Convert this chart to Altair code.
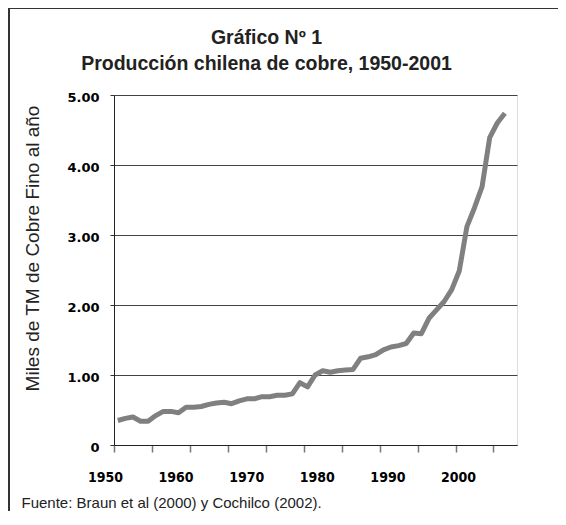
import altair as alt
import pandas as pd

years = list(range(1950, 2002))
produccion = [0.35, 0.38, 0.40, 0.34, 0.34, 0.42, 0.48, 0.48, 0.46, 0.54,
              0.54, 0.55, 0.58, 0.60, 0.61, 0.59, 0.63, 0.66, 0.66, 0.69,
              0.69, 0.71, 0.71, 0.73, 0.89, 0.83, 1.00, 1.06, 1.04, 1.06,
              1.07, 1.08, 1.24, 1.26, 1.29, 1.36, 1.40, 1.42, 1.45, 1.60,
              1.59, 1.81, 1.93, 2.05, 2.22, 2.49, 3.12, 3.39, 3.69, 4.39,
              4.60, 4.74]
year_labels = [1950, 1960, 1970, 1980, 1990, 2000]
tick_years = [1949.5, 1954.5, 1959.5, 1964.5, 1969.5, 1974.5, 1979.5,
              1984.5, 1989.5, 1994.5, 1999.5]
y_ticks = [0, 1, 2, 3, 4, 5]

W, H = 403, 350
PAD = {"left": 106, "top": 87, "right": 41, "bottom": 66}

df = pd.DataFrame({"year": years, "value": produccion})
df_lab = pd.DataFrame({"year": year_labels})

line = alt.Chart(df).mark_line(color="#808080", strokeWidth=5, strokeJoin="round").encode(
    x=alt.X("year:Q",
            scale=alt.Scale(domain=[1949.5, 2002.6], nice=False, zero=False),
            axis=alt.Axis(values=tick_years, labels=False, grid=False,
                          tickSize=7, tickColor="#777", tickWidth=1.5,
                          domainColor="#222", domainWidth=1,
                          title="Fuente: Braun et al (2000) y Cochilco (2002).",
                          titleFont="Liberation Sans", titleFontSize=15,
                          titleFontWeight="normal", titleColor="#222",
                          titleAlign="left", titleAnchor="start",
                          titleBaseline="middle", titleX=-93, titleY=57)),
    y=alt.Y("value:Q",
            scale=alt.Scale(domain=[0, 5], nice=False),
            axis=alt.Axis(values=y_ticks,
                          labelExpr="datum.value == 0 ? '0' : format(datum.value, '.2f')",
                          labelFont="DejaVu Sans", labelFontWeight="bold",
                          labelFontSize=13, labelColor="#000",
                          labelPadding=11, labelOffset=2,
                          tickSize=4, tickColor="#333",
                          domainColor="#222", gridColor="#444", gridWidth=1,
                          title="Miles de TM de Cobre Fino al año",
                          titleFont="Liberation Sans", titleFontSize=19,
                          titleFontWeight="normal", titleColor="#222",
                          titleAngle=-90, titleAlign="center",
                          titleBaseline="middle", titleX=-82, titleY=153)),
)

labels = alt.Chart(df_lab).mark_point(opacity=0).encode(
    x=alt.X("year:Q",
            scale=alt.Scale(domain=[1950, 2000], range=[-9, 344], nice=False, zero=False),
            axis=alt.Axis(values=year_labels, orient="bottom", format="d",
                          ticks=False, domain=False, grid=False,
                          labelFont="DejaVu Sans Condensed", labelFontWeight="bold",
                          labelFontSize=14, labelColor="#000",
                          labelPadding=25, labelBaseline="top", labelFlush=False,
                          labelOverlap=False, title=None)),
    y=alt.value(0),
)

left_border = alt.Chart(df_lab).mark_rule(color="#333", strokeWidth=2).encode(
    x=alt.value(-105), y=alt.value(-87), y2=alt.value(H + PAD["bottom"]))
top_border = alt.Chart(df_lab).mark_rule(color="#333", strokeWidth=1).encode(
    x=alt.value(-106), x2=alt.value(W + PAD["right"]), y=alt.value(-86.5))

chart = alt.layer(line, labels, left_border, top_border).resolve_scale(
    x="independent"
).properties(
    width=W, height=H,
    autosize=alt.AutoSizeParams(type="none"),
    padding=PAD,
    title=alt.TitleParams(
        text=["Gráfico Nº 1", "Producción chilena de cobre, 1950-2001"],
        font="Liberation Sans", fontSize=19.5, fontWeight="bold", color="#222",
        anchor="middle", dx=-49, offset=-67, lineHeight=26),
).configure_view(stroke=None).configure(background="white")

chart.save("out.html", embed_options={"renderer": "svg", "actions": False})
